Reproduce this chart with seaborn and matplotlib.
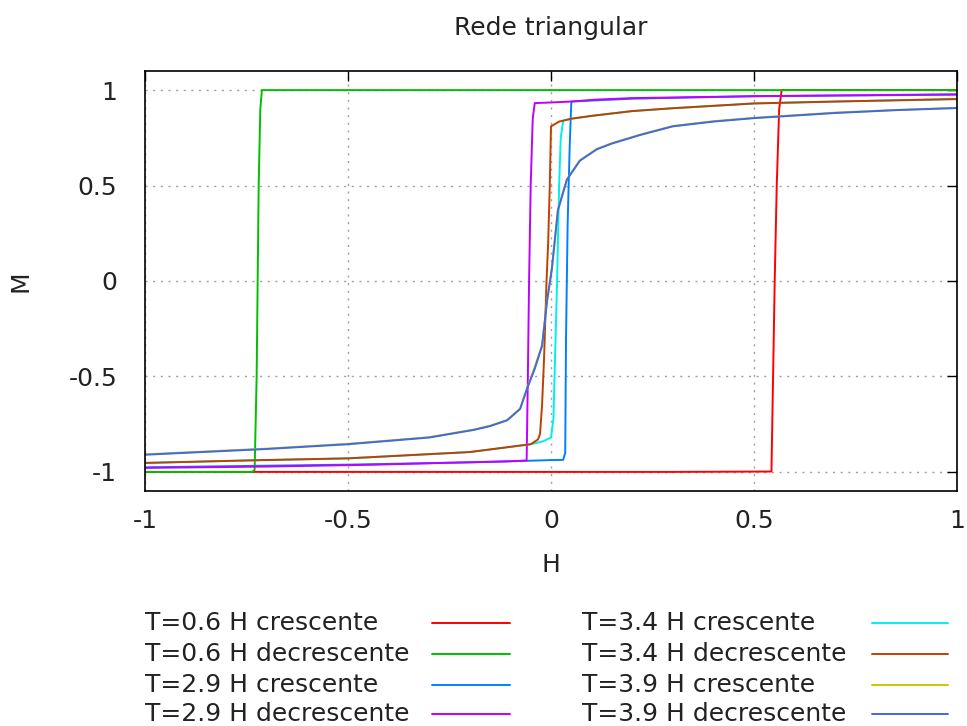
import numpy as np
import pandas as pd
import matplotlib
matplotlib.use("Agg")
import matplotlib.pyplot as plt
from matplotlib.lines import Line2D
import seaborn as sns

# Magnetization hysteresis loops on the triangular lattice
labels = [
    "T=0.6 H crescente", "T=0.6 H decrescente",
    "T=2.9 H crescente", "T=2.9 H decrescente",
    "T=3.4 H crescente", "T=3.4 H decrescente",
    "T=3.9 H crescente", "T=3.9 H decrescente",
]
colors = ["#ff0000", "#00c000", "#0080ff", "#c000ff",
          "#00eeee", "#c04000", "#c8c800", "#4169e1"]

# T=0.6, field increasing
h_06_up = [-1.0, -0.5, 0.0, 0.3, 0.543, 0.547, 0.551, 0.556, 0.562, 0.568, 0.8, 1.0]
m_06_up = [-1.0, -1.0, -1.0, -1.0, -0.998, -0.5, 0.0, 0.5, 0.9, 1.0, 1.0, 1.0]
# T=0.6, field decreasing
h_06_dn = [1.0, 0.5, 0.0, -0.5, -0.712, -0.716, -0.72, -0.725, -0.73, -0.736, -0.9, -1.0]
m_06_dn = [1.0, 1.0, 1.0, 1.0, 1.0, 0.9, 0.5, -0.5, -0.99, -1.0, -1.0, -1.0]

# T=2.9, field increasing
h_29_up = [-1.0, -0.72, -0.5, -0.2, -0.06, 0.0, 0.03, 0.035, 0.037, 0.041,
           0.046, 0.05, 0.1, 0.2, 0.5, 1.0]
m_29_up = [-0.976, -0.968, -0.962, -0.950, -0.942, -0.938, -0.937, -0.9, -0.3, 0.3,
           0.7, 0.94, 0.945, 0.955, 0.968, 0.976]
# T=2.9, field decreasing
h_29_dn = [1.0, 0.5, 0.2, 0.11, 0.05, 0.0, -0.04, -0.045, -0.05, -0.054,
           -0.057, -0.06, -0.11, -0.25, -0.43, -0.7, -1.0]
m_29_dn = [0.978, 0.968, 0.958, 0.95, 0.94, 0.935, 0.932, 0.85, 0.5, 0.0,
           -0.5, -0.94, -0.945, -0.952, -0.962, -0.972, -0.979]

# T=3.4, field increasing
h_34_up = [-1.0, -0.75, -0.5, -0.2, -0.05, -0.02, 0.0, 0.006, 0.01, 0.015,
           0.02, 0.024, 0.03, 0.05, 0.1, 0.2, 0.3, 0.5, 0.7, 1.0]
m_34_up = [-0.953, -0.94, -0.929, -0.896, -0.855, -0.84, -0.82, -0.72, -0.4, 0.0,
           0.5, 0.75, 0.84, 0.85, 0.865, 0.89, 0.905, 0.93, 0.94, 0.953]
# T=3.4, field decreasing
h_34_dn = [1.0, 0.7, 0.5, 0.3, 0.2, 0.1, 0.05, 0.02, 0.0, -0.003, -0.007,
           -0.011, -0.017, -0.022, -0.027, -0.032, -0.05, -0.2, -0.5, -0.75, -1.0]
m_34_dn = [0.953, 0.94, 0.93, 0.905, 0.89, 0.865, 0.85, 0.835, 0.81, 0.5, 0.2,
           0.0, -0.4, -0.65, -0.8, -0.83, -0.855, -0.896, -0.929, -0.94, -0.953]

# T=3.9, field increasing
h_39_up = [-1.0, -0.7, -0.5, -0.3, -0.19, -0.15, -0.108, -0.076, -0.06, -0.04,
           -0.022, -0.01, 0.002, 0.017, 0.039, 0.071, 0.113, 0.15, 0.22, 0.3,
           0.4, 0.5, 0.7, 0.85, 1.0]
m_39_up = [-0.908, -0.878, -0.853, -0.818, -0.778, -0.758, -0.728, -0.668, -0.568, -0.45,
           -0.335, -0.105, 0.065, 0.372, 0.532, 0.632, 0.692, 0.722, 0.767, 0.812,
           0.837, 0.855, 0.882, 0.896, 0.907]
# T=3.9, field decreasing
h_39_dn = [1.0, 0.85, 0.7, 0.5, 0.4, 0.3, 0.22, 0.15, 0.113, 0.071, 0.039,
           0.017, 0.002, -0.01, -0.022, -0.04, -0.06, -0.076, -0.108, -0.15,
           -0.19, -0.3, -0.5, -0.7, -1.0]
m_39_dn = [0.906, 0.895, 0.88, 0.853, 0.835, 0.81, 0.765, 0.72, 0.69, 0.63, 0.53,
           0.37, 0.06, -0.11, -0.34, -0.46, -0.57, -0.67, -0.73, -0.76,
           -0.78, -0.82, -0.855, -0.88, -0.91]

series_h = [h_06_up, h_06_dn, h_29_up, h_29_dn, h_34_up, h_34_dn, h_39_up, h_39_dn]
series_m = [m_06_up, m_06_dn, m_29_up, m_29_dn, m_34_up, m_34_dn, m_39_up, m_39_dn]

frames = []
for lab, hs, ms in zip(labels, series_h, series_m):
    frames.append(pd.DataFrame({"H": hs, "M": ms, "serie": lab,
                                "ordem": np.arange(len(hs))}))
df = pd.concat(frames, ignore_index=True)

sns.set_style("white")
plt.rcParams["font.family"] = ["DejaVu Sans"]
plt.rcParams["axes.unicode_minus"] = False

FS = 18
TXT = "#222222"

fig = plt.figure(figsize=(9.67, 7.26), dpi=100)
ax = fig.add_axes([145 / 967, 1 - 491 / 726, (957 - 145) / 967, (491 - 71) / 726])

sns.lineplot(data=df, x="H", y="M", hue="serie", hue_order=labels,
             palette=dict(zip(labels, colors)), sort=False, estimator=None,
             legend=False, linewidth=1.4, ax=ax)

ax.set_xlim(-1, 1)
ax.set_ylim(-1.1, 1.1)
ax.set_xticks([-1, -0.5, 0, 0.5, 1])
ax.set_xticklabels(["-1", "-0.5", "0", "0.5", "1"])
ax.set_yticks([-1, -0.5, 0, 0.5, 1])
ax.set_yticklabels(["-1", "-0.5", "0", "0.5", "1"])
ax.grid(True, color="#a0a0a0", linestyle=(0, (1.5, 4)), linewidth=1.0)
ax.set_axisbelow(True)
for sp in ax.spines.values():
    sp.set_color("black")
    sp.set_linewidth(1.2)
ax.tick_params(direction="in", length=7, width=1.0, labelsize=FS,
               top=True, right=True, colors="black", labelcolor=TXT)
ax.tick_params(axis="x", pad=13)
ax.tick_params(axis="y", pad=20)

ax.set_xlabel("H", fontsize=FS, labelpad=14, color=TXT)
ax.set_ylabel("M", fontsize=FS, color=TXT)
ax.yaxis.set_label_coords(-(145 - 32) / 812, 0.5)
ax.set_title("Rede triangular", fontsize=FS, pad=26, color=TXT)

# legend in two columns below the plot
col_text_x = [145, 582]
col_line_x = [(432, 510), (872, 948)]
row_y = [623, 654, 685, 714]
for i, (lab, col) in enumerate(zip(labels, colors)):
    c, r = divmod(i, 4)
    y = 1 - row_y[r] / 726
    fig.text(col_text_x[c] / 967, y, lab, fontsize=FS, va="center", ha="left",
             color=TXT)
    x0, x1 = col_line_x[c]
    fig.add_artist(Line2D([x0 / 967, x1 / 967], [y, y], color=col, linewidth=1.4,
                          transform=fig.transFigure))

fig.savefig("out.png", dpi=100)
